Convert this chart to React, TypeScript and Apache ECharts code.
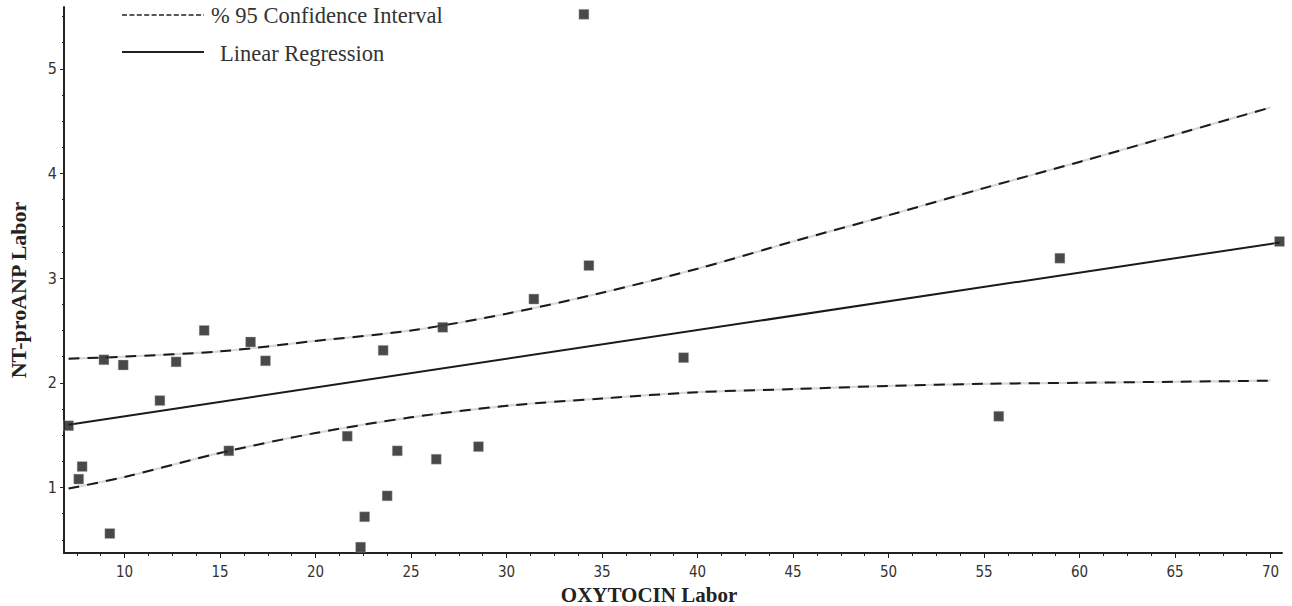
import React, { useEffect, useRef } from "react";
import * as echarts from "echarts";

// ---- data ----
const oxytocin = [
  7.07, 7.6, 7.78, 9.23, 8.92, 9.93, 11.85, 12.7, 14.17, 15.46, 16.6, 17.38,
  21.66, 23.54, 24.28, 23.75, 22.57, 22.36, 26.32, 28.53, 26.66, 31.43,
  34.05, 34.31, 39.27, 55.77, 58.97, 70.47,
];
const ntproanp = [
  1.59, 1.08, 1.2, 0.56, 2.22, 2.17, 1.83, 2.2, 2.5, 1.35, 2.39, 2.21,
  1.49, 2.31, 1.35, 0.92, 0.72, 0.43, 1.27, 1.39, 2.53, 2.8,
  5.52, 3.12, 2.24, 1.68, 3.19, 3.35,
];
const regX = [7.07, 70.47];
const regY = [1.6, 3.34];
const ciX = [7.07, 10, 15, 20, 25, 30, 35, 40, 45, 50, 55, 60, 65, 70.0];
const ciUpper = [2.23, 2.25, 2.3, 2.4, 2.5, 2.66, 2.86, 3.09, 3.35, 3.6, 3.86, 4.11, 4.37, 4.63];
const ciLower = [0.99, 1.1, 1.33, 1.52, 1.67, 1.78, 1.85, 1.91, 1.94, 1.97, 1.99, 2.0, 2.01, 2.02];

const xTicks = [10, 15, 20, 25, 30, 35, 40, 45, 50, 55, 60, 65, 70];
const yTicks = [1, 2, 3, 4, 5];
const xMinorTicks: number[] = [];
for (let v = 7.5; v <= 70.01; v += 1.25) xMinorTicks.push(Math.round(v * 100) / 100);
const yMinorTicks: number[] = [];
for (let v = 0.5; v <= 5.51; v += 0.25) yMinorTicks.push(Math.round(v * 100) / 100);

const legendCI = "% 95 Confidence Interval";
const legendReg = "Linear Regression";
const xTitle = "OXYTOCIN Labor";
const yTitle = "NT-proANP Labor";

const X_MIN = 6.83;
const X_MAX = 70.6;
const Y_MIN = 0.374;
const Y_MAX = 5.59;

const tickFont = "'Liberation Sans Narrow', 'DejaVu Sans Condensed', 'Arial Narrow', 'Liberation Sans', sans-serif";
const serif = "'Liberation Serif', 'Times New Roman', serif";

export default function App() {
  const ref = useRef<HTMLDivElement>(null);
  useEffect(() => {
    document.body.style.margin = "0";
    const chart = echarts.init(ref.current!, null, { renderer: "svg" });
    const pairs = (xs: number[], ys: number[]) => xs.map((x, i) => [x, ys[i]]);
    const baseX = {
      type: "value",
      min: X_MIN,
      max: X_MAX,
      position: "bottom",
      offset: 0,
      splitLine: { show: false },
    };
    const baseY = {
      type: "value",
      min: Y_MIN,
      max: Y_MAX,
      position: "left",
      offset: 0,
      splitLine: { show: false },
    };
    chart.setOption({
      animation: false,
      backgroundColor: "#ffffff",
      grid: { left: 64, right: 10, top: 7, bottom: 53, containLabel: false },
      xAxis: [
        {
          ...baseX,
          axisLine: { show: true, onZero: false, lineStyle: { color: "#222", width: 2 } },
          axisTick: { show: true, length: 5, customValues: xTicks, lineStyle: { color: "#222", width: 1 } },
          axisLabel: {
            customValues: xTicks,
            margin: 11,
            color: "#333",
            fontSize: 15,
            fontFamily: tickFont,
          },
        },
        {
          ...baseX,
          axisLine: { show: false, onZero: false },
          axisTick: { show: true, length: 3, customValues: xMinorTicks, lineStyle: { color: "#222", width: 1 } },
          axisLabel: { show: false },
        },
      ],
      yAxis: [
        {
          ...baseY,
          axisLine: { show: true, onZero: false, lineStyle: { color: "#222", width: 2 } },
          axisTick: { show: true, length: 4, customValues: yTicks, lineStyle: { color: "#222", width: 1 } },
          axisLabel: {
            customValues: yTicks,
            margin: 7,
            color: "#333",
            fontSize: 16,
            fontFamily: tickFont,
          },
        },
        {
          ...baseY,
          axisLine: { show: false, onZero: false },
          axisTick: { show: true, length: 2, customValues: yMinorTicks, lineStyle: { color: "#222", width: 1 } },
          axisLabel: { show: false },
        },
      ],
      graphic: [
        {
          type: "line",
          shape: { x1: 122, y1: 15, x2: 204, y2: 15 },
          style: { stroke: "#222", lineWidth: 1.5, lineDash: [5, 2.4] },
        },
        {
          type: "text",
          x: 211,
          y: 15,
          style: { text: legendCI, font: `22.5px ${serif}`, fill: "#333", verticalAlign: "middle" },
        },
        {
          type: "line",
          shape: { x1: 122, y1: 52, x2: 204, y2: 52 },
          style: { stroke: "#222", lineWidth: 2 },
        },
        {
          type: "text",
          x: 220,
          y: 53,
          style: { text: legendReg, font: `22.5px ${serif}`, fill: "#333", verticalAlign: "middle" },
        },
        {
          type: "text",
          x: 649,
          y: 595,
          style: {
            text: xTitle,
            font: `bold 21px ${serif}`,
            fill: "#222",
            align: "center",
            verticalAlign: "middle",
          },
        },
        {
          type: "text",
          x: 18,
          y: 290,
          rotation: Math.PI / 2,
          style: {
            text: yTitle,
            font: `bold 22px ${serif}`,
            fill: "#222",
            align: "center",
            verticalAlign: "middle",
          },
        },
      ],
      series: [
        {
          type: "line",
          data: pairs(ciX, ciUpper),
          smooth: 0.3,
          symbol: "none",
          lineStyle: { color: "#d8d8d8", width: 2.2 },
          z: 2,
        },
        {
          type: "line",
          data: pairs(ciX, ciUpper),
          smooth: 0.3,
          symbol: "none",
          lineStyle: { color: "#1a1a1a", width: 2, type: [11, 8] },
          z: 3,
        },
        {
          type: "line",
          data: pairs(ciX, ciLower),
          smooth: 0.3,
          symbol: "none",
          lineStyle: { color: "#d8d8d8", width: 2.2 },
          z: 2,
        },
        {
          type: "line",
          data: pairs(ciX, ciLower),
          smooth: 0.3,
          symbol: "none",
          lineStyle: { color: "#1a1a1a", width: 2, type: [11, 8] },
          z: 3,
        },
        {
          type: "line",
          data: pairs(regX, regY),
          symbol: "none",
          lineStyle: { color: "#1a1a1a", width: 2 },
          z: 3,
        },
        {
          type: "scatter",
          data: pairs(oxytocin, ntproanp),
          symbol: "rect",
          symbolSize: 10,
          clip: false,
          itemStyle: { color: "#1c1c1c", borderColor: "#bbbbbb", borderWidth: 0.5 },
          z: 4,
        },
      ],
    });
    return () => chart.dispose();
  }, []);
  return <div ref={ref} style={{ width: 1292, height: 606 }} />;
}
